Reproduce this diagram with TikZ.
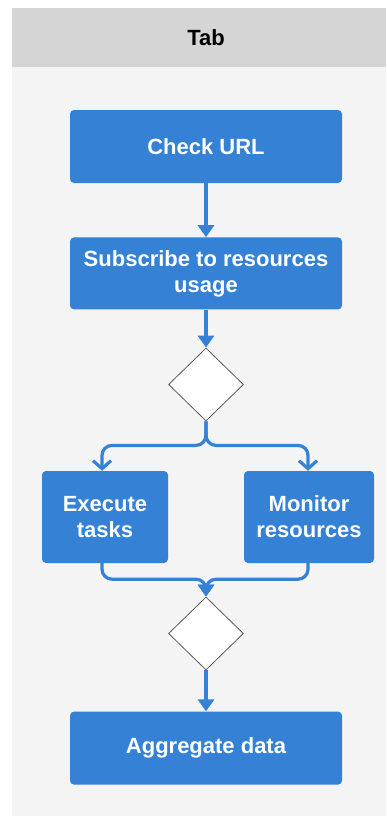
\documentclass[tikz,border=0pt]{standalone}
\usepackage{fontspec}
\setmainfont{Liberation Sans}
\usepackage{xcolor}
\usepackage{tikz}
\usetikzlibrary{positioning, arrows.meta, shapes.geometric}

\definecolor{taskblue}{RGB}{52,129,213}
\definecolor{lanehead}{RGB}{213,213,213}
\definecolor{lanebody}{RGB}{244,244,244}

\begin{document}
\begin{tikzpicture}[
    x=1pt, y=-1pt,
    font=\fontsize{22}{26}\selectfont\bfseries,
    node distance=54pt,
    task/.style={rectangle, rounded corners=4pt, fill=taskblue, text=white, minimum width=272pt, minimum height=73pt, align=center, inner sep=0pt},
    decision/.style={diamond, draw=black!65, fill=white, line width=0.8pt, minimum width=75pt, minimum height=73pt, inner sep=0pt},
    flow/.style={-{Triangle[width=16pt,length=12pt]}, draw=taskblue, line width=3.2pt, rounded corners=10pt},
    branch/.style={-{Straight Barb[width=18pt,length=8pt]}, draw=taskblue, line width=3.2pt, rounded corners=10pt}
]

\useasboundingbox (0,0) rectangle (386,816);

% Swimlane
\fill[lanebody] (12,8) rectangle (386,816);
\fill[lanehead] (12,8) rectangle (386,67);
\node (tab) at (206,37.5) {Tab};

% Nodes
\node[task] (check) at (206,146.5) {Check URL};
\node[task, below=of check, minimum height=72pt] (subscribe) {Subscribe to resources\\usage};
\node[decision, below=38pt of subscribe] (split) {};

\node[task, minimum width=126pt, minimum height=92pt] (execute) at (105,517) {Execute\\tasks};
\node[task, minimum width=130pt, minimum height=92pt] (monitor) at (309,517) {Monitor\\resources};

\node[decision] (join) at (206,633.5) {};
\node[task, below=41pt of join] (aggregate) {Aggregate data};

% Edges
\draw[flow] (check) -- (subscribe);
\draw[flow] (subscribe) -- (split);
\draw[branch] (split.south) -- ++(0,24) -| ([xshift=-3pt]execute.north);
\draw[branch] (split.south) -- ++(0,24) -| ([xshift=-1pt]monitor.north);
\draw[flow] ([xshift=-3pt]execute.south) -- ++(0,16) -| (join.north);
\draw[flow] ([xshift=-1pt]monitor.south) -- ++(0,16) -| (join.north);
\draw[flow] (join) -- (aggregate);

\end{tikzpicture}
\end{document}
